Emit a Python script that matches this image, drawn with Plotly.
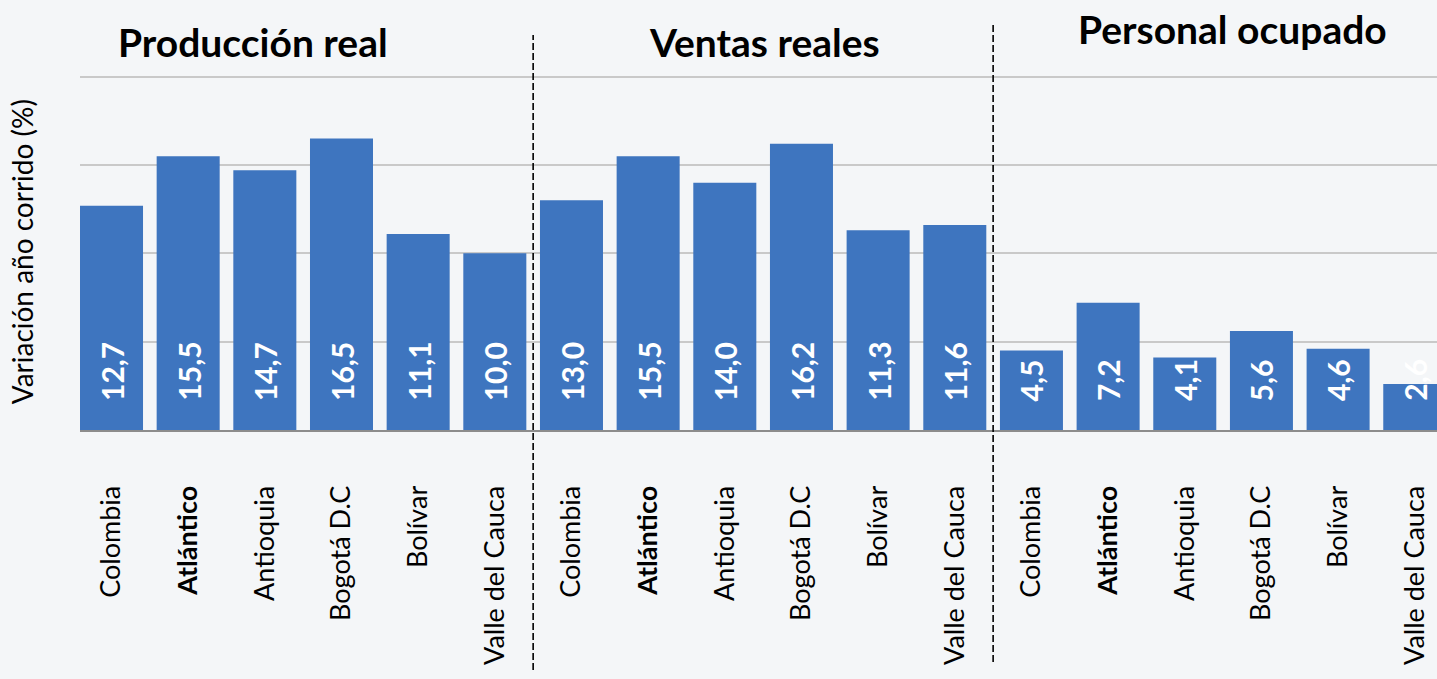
import plotly.graph_objects as go

categories = ["Colombia", "Atlántico", "Antioquia", "Bogotá D.C", "Bolívar", "Valle del Cauca"]
group_titles = ["Producción real", "Ventas reales", "Personal ocupado"]
produccion = [12.7, 15.5, 14.7, 16.5, 11.1, 10.0]
ventas = [13.0, 15.5, 14.0, 16.2, 11.3, 11.6]
personal = [4.5, 7.2, 4.1, 5.6, 4.6, 2.6]
y_title = "Variación año corrido (%)"

FONT = "Lato"
BAR = "#3e75bf"
BG = "#f4f6f8"

values = produccion + ventas + personal
n = len(values)
xs = list(range(n))
ticktext = [f"<b>{c}</b>" if c == "Atlántico" else c for c in categories] * 3

fig = go.Figure()
fig.add_trace(go.Bar(x=xs, y=values, marker=dict(color=BAR, line=dict(width=0)),
                     hoverinfo="skip"))

# value labels at base of bars
for i, v in enumerate(values):
    fig.add_annotation(x=i, y=0, xref="x", yref="y", text=f"<b>{v:.1f}</b>".replace(".", ","),
                       textangle=-90, showarrow=False, yanchor="bottom", xanchor="center",
                       yshift=27, font=dict(family=FONT, size=30, color="white"))

# group titles
title_x = [1.84, 8.52, 14.62]
title_y = [1.045, 1.045, 1.08]
for t, tx, ty in zip(group_titles, title_x, title_y):
    fig.add_annotation(x=tx, y=ty, xref="x", yref="paper", text=f"<b>{t}</b>", showarrow=False,
                       xanchor="center", yanchor="middle", font=dict(family=FONT, size=39, color="black"))

# separators
sep_x = [5.5, 11.5]
sep_y0 = [-0.647, -0.625]
sep_y1 = [1.0647, 1.0916]
for sx, a, b in zip(sep_x, sep_y0, sep_y1):
    fig.add_shape(type="line", xref="x", yref="paper", x0=sx, x1=sx, y0=a, y1=b,
                  line=dict(color="black", width=1.6, dash="7px,3px"))

# y title
fig.add_annotation(x=-0.0425, y=0.48, xref="paper", yref="paper", text=y_title, textangle=-90,
                   showarrow=False, xanchor="center", yanchor="middle",
                   font=dict(family=FONT, size=28, color="black"))

fig.update_layout(
    width=1437, height=679,
    margin=dict(l=80, r=0, t=59, b=249),
    paper_bgcolor=BG, plot_bgcolor=BG,
    bargap=0.178, showlegend=False,
    xaxis=dict(range=[-0.411, 17.29], tickmode="array", tickvals=xs, ticktext=ticktext,
               tickangle=-90, tickfont=dict(family=FONT, size=27, color="black"),
               ticklabelstandoff=43, showgrid=False, zeroline=False,
               showline=True, linecolor="#8c8c8c", linewidth=2, ticks=""),
    yaxis=dict(range=[0, 21], dtick=5, showticklabels=False, showgrid=True,
               gridcolor="#c9c9c9", gridwidth=2, zeroline=False, ticks=""),
)

fig.write_html("out.html", config={"displayModeBar": False},
               post_script="document.body.style.margin='0';document.body.style.overflow='hidden';")
